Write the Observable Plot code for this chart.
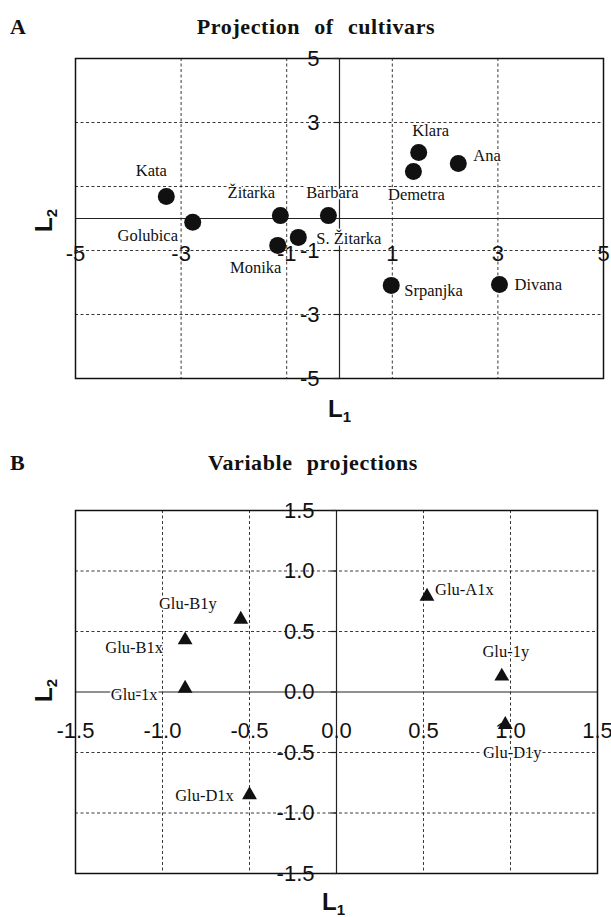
<!DOCTYPE html>
<html>
<head>
<meta charset="utf-8">
<script src="https://cdn.jsdelivr.net/npm/d3@7"></script>
<script src="https://cdn.jsdelivr.net/npm/@observablehq/plot@0.6"></script>
<style>
  html, body { margin: 0; padding: 0; background: #fff; }
  body { width: 611px; height: 917px; position: relative; overflow: hidden; }
  .abs { position: absolute; }
  .panel { font-family: "Liberation Serif", "Times New Roman", serif; font-weight: bold; font-size: 22px; line-height: 1; color: #111; }
  .title { font-family: "Liberation Serif", "Times New Roman", serif; font-weight: bold; font-size: 22px; letter-spacing: 0.6px; word-spacing: 8px; line-height: 1; color: #111; transform: translateX(-50%); white-space: nowrap; }
  .axlab { font-family: "Liberation Sans", Arial, sans-serif; font-weight: bold; font-size: 24px; line-height: 1; color: #111; white-space: nowrap; }
  .axlab sub { font-size: 15px; vertical-align: -5px; }
  svg { overflow: visible; }
</style>
</head>
<body>
<div class="abs panel" style="left:10px; top:16px;">A</div>
<div class="abs title" style="left:316px; top:16px;">Projection of cultivars</div>
<div class="abs panel" style="left:10px; top:452px;">B</div>
<div class="abs title" style="left:313px; top:452px;">Variable projections</div>

<div id="chart1" class="abs" style="left:0; top:40px;"></div>
<div id="chart2" class="abs" style="left:0; top:480px;"></div>

<div class="abs axlab" style="left:328px; top:397px;">L<sub>1</sub></div>
<div class="abs axlab" style="left:34px; top:207px; transform: rotate(-90deg); transform-origin: 50% 50%;">L<sub>2</sub></div>
<div class="abs axlab" style="left:322px; top:890px;">L<sub>1</sub></div>
<div class="abs axlab" style="left:34px; top:677px; transform: rotate(-90deg); transform-origin: 50% 50%;">L<sub>2</sub></div>

<script>
// ---------- Data: panel A (projection of cultivars) ----------
const cultivars  = ["Kata", "Golubica", "Žitarka", "Barbara", "Monika", "S. Žitarka", "Klara", "Demetra", "Ana", "Srpanjka", "Divana"];
const cultivarL1 = [-3.28, -2.78, -1.12, -0.21, -1.17, -0.78, 1.50, 1.40, 2.25, 0.98, 3.03];
const cultivarL2 = [0.69, -0.12, 0.09, 0.09, -0.84, -0.59, 2.06, 1.47, 1.72, -2.09, -2.06];
const aXTicks = [-5, -3, -1, 1, 3, 5];
const aYTicks = [5, 3, -1, -3, -5];
const aGridX = [-3, -1, 1, 3];
const aGridY = [3, 1, -1, -3];

// ---------- Data: panel B (variable projections) ----------
const variables = ["Glu-B1y", "Glu-B1x", "Glu-1x", "Glu-A1x", "Glu-1y", "Glu-D1x", "Glu-D1y"];
const varL1 = [-0.55, -0.87, -0.87, 0.52, 0.95, -0.50, 0.97];
const varL2 = [0.60, 0.43, 0.03, 0.79, 0.13, -0.85, -0.27];
const bXTicks = [-1.5, -1.0, -0.5, 0.0, 0.5, 1.0, 1.5];
const bYTicks = [1.5, 1.0, 0.5, 0.0, -0.5, -1.0, -1.5];
const bGridX = [-1.0, -0.5, 0.5, 1.0];
const bGridY = [1.0, 0.5, -0.5, -1.0];

// ---------- Label placement (layout only) ----------
const placeA = {
  "Kata": [-15, -26, "middle"], "Golubica": [-45, 13, "middle"], "Žitarka": [-29, -23, "middle"],
  "Barbara": [4, -23, "middle"], "Monika": [-22, 22, "middle"], "S. Žitarka": [18, 1, "start"],
  "Klara": [12, -22, "middle"], "Demetra": [3, 23, "middle"], "Ana": [15, -8, "start"],
  "Srpanjka": [13, 5, "start"], "Divana": [15, 0, "start"]
};
const placeB = {
  "Glu-B1y": [-53, -16, "middle"], "Glu-B1x": [-51, 8, "middle"], "Glu-1x": [-51, 6, "middle"],
  "Glu-A1x": [8, -7, "start"], "Glu-1y": [4, -25, "middle"], "Glu-D1x": [-45, 1, "middle"],
  "Glu-D1y": [7, 28, "middle"]
};

const ptsA = cultivars.map((name, i) => ({name, x: cultivarL1[i], y: cultivarL2[i]}));
const ptsB = variables.map((name, i) => ({name, x: varL1[i], y: varL2[i]}));

const serif = "Liberation Serif, Times New Roman, serif";
const sans = "Liberation Sans, Arial, sans-serif";
const grid = {stroke: "#222", strokeWidth: 0.9, strokeDasharray: "3,2.5"};

function labelMarks(pts, place) {
  return ["start", "middle", "end"].map(anchor => {
    const sub = pts.filter(d => place[d.name][2] === anchor);
    return Plot.text(sub, {
      x: "x", y: "y", text: "name",
      textAnchor: anchor,
      fontFamily: serif, fontSize: 16.5, fill: "#111",
      stroke: "white", strokeWidth: 3, paintOrder: "stroke",
      render: (index, scales, values, dims, ctx, next) => {
        const g = next(index, scales, values, dims, ctx);
        d3.select(g).selectAll("text").each(function(_, j) {
          const d = sub[index[j]];
          const p = place[d.name];
          const t = d3.select(this);
          const tr = t.attr("transform") || "";
          t.attr("transform", tr + ` translate(${p[0]},${p[1]})`);
        });
        return g;
      }
    });
  });
}

function fmtA(d) { return String(d).replace("\u2212", "-"); }
function fmtB(d) { return d.toFixed(1).replace("\u2212", "-"); }

const chartA = Plot.plot({
  width: 611, height: 400,
  marginLeft: 75, marginRight: 8, marginTop: 18, marginBottom: 62,
  x: {domain: [-5, 5], axis: null},
  y: {domain: [-5, 5], axis: null},
  marks: [
    Plot.ruleX(aGridX, grid),
    Plot.ruleY(aGridY, grid),
    Plot.ruleX([0], {stroke: "#222", strokeWidth: 1.2}),
    Plot.ruleY([0], {stroke: "#222", strokeWidth: 1.2}),
    Plot.frame({stroke: "#111", strokeWidth: 1.5}),
    Plot.ruleY(aYTicks, {y: d => d, x1: -0.1, x2: 0, stroke: "#222", strokeWidth: 1.2}),
    Plot.text(aYTicks, {x: () => 0, y: d => d, text: d => fmtA(d), dx: -20, textAnchor: "end",
      fontFamily: sans, fontSize: 22, fill: "#111"}),
    Plot.text(aXTicks, {x: d => d, y: () => 0, text: d => fmtA(d), dy: 35,
      fontFamily: sans, fontSize: 22, fill: "#111"}),
    Plot.dot(ptsA, {x: "x", y: "y", r: 8.5, fill: "#111", stroke: "none"}),
    ...labelMarks(ptsA, placeA)
  ]
});
document.getElementById("chart1").appendChild(chartA);

const chartB = Plot.plot({
  width: 611, height: 437,
  marginLeft: 75, marginRight: 14, marginTop: 30, marginBottom: 44,
  x: {domain: [-1.5, 1.5], axis: null},
  y: {domain: [-1.5, 1.5], axis: null},
  marks: [
    Plot.ruleX(bGridX, grid),
    Plot.ruleY(bGridY, grid),
    Plot.ruleX([0], {stroke: "#222", strokeWidth: 1.2}),
    Plot.ruleY([0], {stroke: "#222", strokeWidth: 1.2}),
    Plot.frame({stroke: "#111", strokeWidth: 1.5}),
    Plot.ruleY(bYTicks, {y: d => d, x1: -0.03, x2: 0, stroke: "#222", strokeWidth: 1.2}),
    Plot.text(bYTicks, {x: () => 0, y: d => d, text: d => fmtB(d), dx: -22, textAnchor: "end",
      fontFamily: sans, fontSize: 22, fill: "#111"}),
    Plot.text(bXTicks, {x: d => d, y: () => 0, text: d => fmtB(d), dy: 39,
      fontFamily: sans, fontSize: 22, fill: "#111"}),
    Plot.dot(ptsB, {x: "x", y: "y", r: 5.5, symbol: "triangle", fill: "#111", stroke: "none"}),
    ...labelMarks(ptsB, placeB)
  ]
});
document.getElementById("chart2").appendChild(chartB);
</script>
</body>
</html>
